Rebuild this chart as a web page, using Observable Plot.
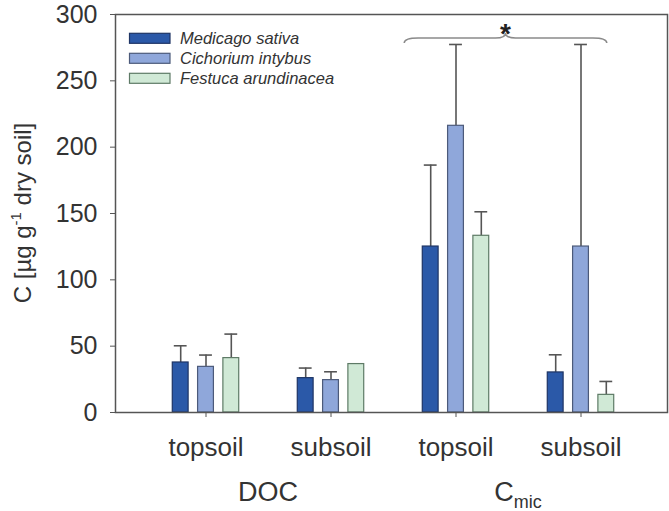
<!DOCTYPE html>
<html>
<head>
<meta charset="utf-8">
<script src="https://cdn.jsdelivr.net/npm/d3@7"></script>
<script src="https://cdn.jsdelivr.net/npm/@observablehq/plot@0.6"></script>
<style>
  body { margin: 0; background: #fff; }
  #chart svg { font-family: "Liberation Sans", Arial, sans-serif; }
</style>
</head>
<body>
<div id="chart"></div>
<script>
// Groups along the x axis: fraction (DOC / Cmic) × soil depth
const groups = ["DOC topsoil", "DOC subsoil", "Cmic topsoil", "Cmic subsoil"];
const soilLabels = ["topsoil", "subsoil", "topsoil", "subsoil"];
const fractions = ["DOC", "Cmic"];
const species = ["Medicago sativa", "Cichorium intybus", "Festuca arundinacea"];

// Mean carbon (µg g-1 dry soil) and its error, per group
const medicago = [37.7, 25.9, 125.1, 30.2];
const medicagoErr = [12.6, 7.6, 61.4, 13.3];
const cichorium = [34.4, 24.4, 216.1, 125.1];
const cichoriumErr = [8.9, 6.3, 61.3, 152.3];
const festuca = [41.0, 36.5, 133.2, 13.3];
const festucaErr = [18.1, 0, 18.1, 10.1];

const yTicks = [0, 50, 100, 150, 200, 250, 300];

const fills = ["#2b59a8", "#8fa7da", "#d0e9d6"];
const strokes = ["#1f3565", "#4c5a7a", "#5e7a66"];
const ink = "#333";
const axisInk = "#555";

const W = 669, H = 511;
const mL = 115, mR = 2, mT = 14, mB = 99;
const padOuter = 0.205;
const step = (W - mL - mR) / (groups.length + 2 * padOuter);
const shift = 25.3;      // spacing between neighbouring bars of a group
const barW = 16;
const capW = 13;

const series = [medicago, cichorium, festuca];
const errors = [medicagoErr, cichoriumErr, festucaErr];

const marks = [];
series.forEach((vals, k) => {
  const rows = groups.map((g, i) => ({group: g, value: vals[i], err: errors[k][i], species: species[k]}));
  const withErr = rows.filter(d => d.err > 0);
  const dx = (k - 1) * shift;
  marks.push(Plot.ruleX(withErr, {x: "group", y1: "value", y2: d => d.value + d.err, dx, stroke: axisInk, strokeWidth: 1.6}));
  marks.push(Plot.tickY(withErr, {x: "group", y: d => d.value + d.err, dx, stroke: axisInk, strokeWidth: 1.6,
    insetLeft: (step - capW) / 2, insetRight: (step - capW) / 2}));
  marks.push(Plot.barY(rows, {x: "group", y: "value", dx, fill: fills[k], stroke: strokes[k], strokeWidth: 1.2,
    insetLeft: (step - barW) / 2, insetRight: (step - barW) / 2}));
});

const chart = Plot.plot({
  width: W,
  height: H,
  marginLeft: mL,
  marginRight: mR,
  marginTop: mT,
  marginBottom: mB,
  x: {domain: groups, paddingInner: 0, paddingOuter: padOuter, align: 0.544},
  y: {domain: [0, 300]},
  marks: [
    ...marks,
    Plot.frame({stroke: axisInk, strokeWidth: 1.5}),
    Plot.axisY({ticks: yTicks, tickSize: 5, tickPadding: 13, fontSize: 25, label: null, stroke: axisInk, color: ink}),
    Plot.axisX({tickSize: 5, tickPadding: 20, fontSize: 26, label: null, stroke: axisInk, color: ink,
      tickFormat: d => soilLabels[groups.indexOf(d)]})
  ]
});

document.getElementById("chart").appendChild(chart);

// Annotations drawn from the chart's own scales
const svg = d3.select(chart);
const xs = chart.scale("x");
const ys = chart.scale("y");
const bw = xs.bandwidth;
const cx = g => xs.apply(g) + bw / 2;

// y-axis title with superscript
const yTitle = svg.append("text")
  .attr("transform", `translate(31,${(ys.apply(0) + ys.apply(300)) / 2}) rotate(-90)`)
  .attr("text-anchor", "middle")
  .attr("font-size", 24)
  .attr("fill", ink);
yTitle.append("tspan").text("C [µg g");
yTitle.append("tspan").attr("font-size", 15).attr("dy", -10).text("-1");
yTitle.append("tspan").attr("dy", 10).text(" dry soil]");

// Fraction labels under the pairs of groups
fractions.forEach((f, j) => {
  const xm = (cx(groups[2 * j]) + cx(groups[2 * j + 1])) / 2;
  const t = svg.append("text")
    .attr("x", xm).attr("y", 501)
    .attr("text-anchor", "middle")
    .attr("font-size", 27)
    .attr("fill", ink);
  if (f === "Cmic") {
    t.append("tspan").text("C");
    t.append("tspan").attr("font-size", 18).attr("dy", 7).text("mic");
  } else {
    t.text(f);
  }
});

// Significance brace over the Cmic groups
const bx1 = cx("Cmic topsoil") - shift - 26;
const bx2 = cx("Cmic subsoil") + shift + 1;
const by = ys.apply(282);
const bm = (bx1 + bx2) / 2;
svg.append("path")
  .attr("d", `M${bx1},${by + 5} Q${bx1},${by} ${bx1 + 14},${by} L${bm - 10},${by} Q${bm},${by} ${bm},${by - 5} Q${bm},${by} ${bm + 10},${by} L${bx2 - 14},${by} Q${bx2},${by} ${bx2},${by + 5}`)
  .attr("fill", "none")
  .attr("stroke", "#8a8a8a")
  .attr("stroke-width", 1.5);
svg.append("text")
  .attr("x", bm).attr("y", by + 5)
  .attr("text-anchor", "middle")
  .attr("font-size", 28)
  .attr("font-weight", "bold")
  .attr("fill", "#222")
  .text("*");

// Legend inside the plot area
const legend = svg.append("g").attr("text-anchor", "start");
species.forEach((s, k) => {
  const yTop = 33.3 + k * 20;
  legend.append("rect")
    .attr("x", 129.5).attr("y", yTop)
    .attr("width", 40.5).attr("height", 10)
    .attr("fill", fills[k]).attr("stroke", strokes[k]).attr("stroke-width", 1.2);
  legend.append("text")
    .attr("x", 180).attr("y", yTop + 5)
    .attr("dy", "0.35em")
    .attr("text-anchor", "start")
    .attr("font-size", 16.5)
    .attr("font-style", "italic")
    .attr("fill", ink)
    .text(s);
});
</script>
</body>
</html>
